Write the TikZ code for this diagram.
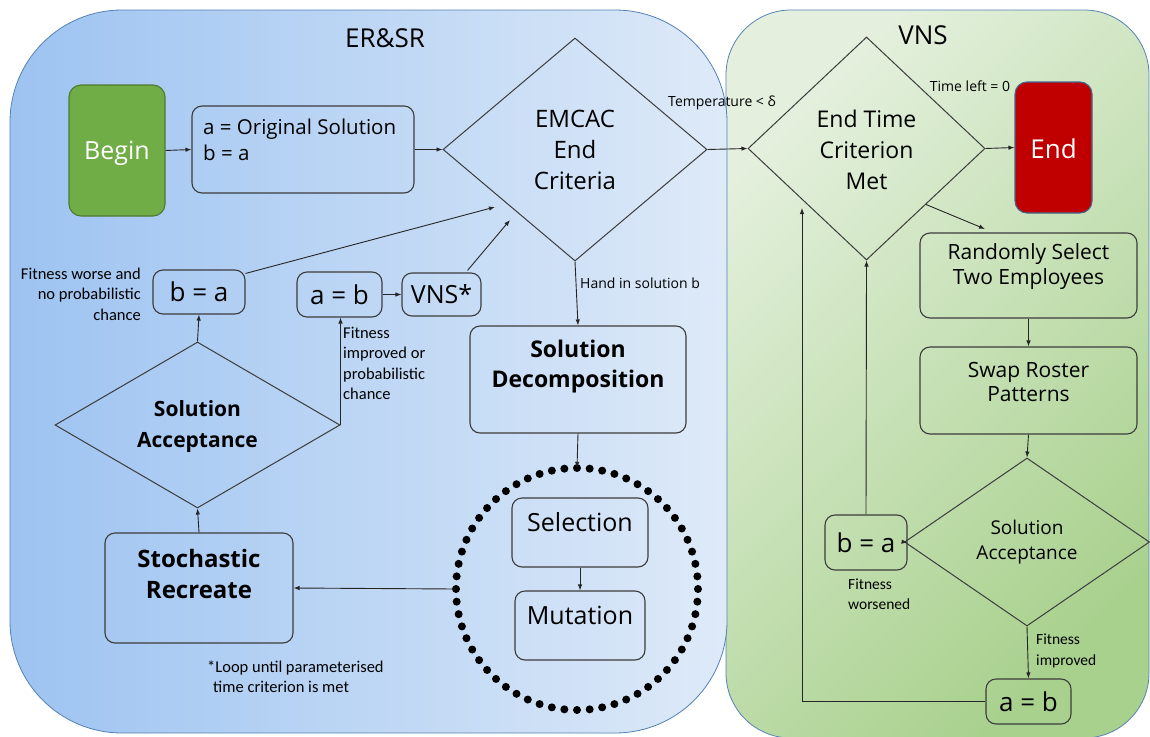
\documentclass[tikz,border=0pt]{standalone}
\usepackage{fontspec}
\setmainfont{Open Sans}
\newfontfamily\lblfont{Carlito}
\usetikzlibrary{arrows.meta,shapes.geometric}
\definecolor{bluel}{RGB}{157,195,241}
\definecolor{bluer}{RGB}{222,234,248}
\definecolor{greentl}{RGB}{228,240,221}
\definecolor{greenbr}{RGB}{169,209,142}
\definecolor{frame}{RGB}{84,130,180}
\definecolor{begingreen}{RGB}{112,173,71}
\definecolor{endred}{RGB}{192,0,0}
\definecolor{edge}{RGB}{60,60,60}
\newcommand\fsz[2]{\fontsize{#1}{#2}\selectfont}
\begin{document}
\begin{tikzpicture}[x=1pt,y=-1pt,
  rbox/.style={draw=edge, line width=1.1pt, rounded corners=10pt, inner sep=0pt},
  dia/.style={diamond, draw=edge, line width=1pt, inner sep=0pt},
  flow/.style={draw=black!85, line width=0.9pt, -{Latex[length=6pt,width=4.5pt]}},
  txt/.style={inner sep=0pt, align=center},
  lbl/.style={inner sep=0pt, font=\lblfont\fsz{16.5}{20.5}},
  small/.style={inner sep=0pt, font=\fsz{14}{18}}]
\useasboundingbox (0,0) rectangle (1150,736);

% containers
\path[draw=frame, line width=0.8pt, rounded corners=65pt,
      top color=greentl, bottom color=greenbr, shading angle=45]
  (726,10) rectangle (1149,738);
\path[draw=frame, line width=0.8pt, rounded corners=112pt,
      left color=bluel, right color=bluer]
  (10,10) rectangle (727,733);
\node[txt, font=\fsz{26}{30}] (ersr) at (385,38) {ER\&SR};
\node[txt, font=\fsz{26}{30}] (vnstitle) at (923,35) {VNS};

% ER&SR part
\node[rbox, fill=begingreen, draw=begingreen!70!black, rounded corners=12pt,
      minimum width=96pt, minimum height=131pt]
  (begin) at (117,150.5) {};
\node[txt, text=white, font=\fsz{25}{30}] (begint) at (117,153) {Begin};
\node[rbox, minimum width=222pt, minimum height=87pt] (orig) at (303,149.5) {};
\node[inner sep=0pt, align=left, anchor=west, font=\fsz{20.5}{26}] (origt) at (203,140)
  {a = Original Solution\\b = a};

\node[dia, minimum width=264pt, minimum height=223pt] (emcac) at (575,149.5) {};
\node[txt, font=\fsz{24}{31}] (emcact) at (575,150) {EMCAC\\End\\Criteria};

\node[dia, minimum width=285pt, minimum height=166pt] (bsa) at (197.5,425) {};
\node[txt, font=\bfseries\fsz{21}{31}] (bsat) at (197.5,426.5) {Solution\\Acceptance};

\node[rbox, minimum width=92pt, minimum height=44pt, font=\fsz{26}{30}] (bba) at (199,292) {b = a};
\node[rbox, minimum width=85pt, minimum height=45pt, font=\fsz{26}{30}] (bab) at (339.5,294.5) {a = b};
\node[rbox, minimum width=79pt, minimum height=43pt, font=\fsz{25}{30}] (vns) at (441.5,294.5) {VNS*};

\node[lbl, align=right, anchor=east] (worse) at (141,294)
  {Fitness worse and\\no probabilistic\\chance};
\node[lbl, align=left, anchor=west] (better) at (343,363.5)
  {Fitness\\improved or\\probabilistic\\chance};

\node[rbox, minimum width=216pt, minimum height=107pt] (sd) at (578,379.5) {};
\node[txt, font=\bfseries\fsz{23}{30}] (sdt) at (578,367) {Solution\\Decomposition};

\node[circle, minimum size=242pt, inner sep=0pt] (loop) at (577,589) {};
\foreach \k in {0,...,59}
  \fill (loop.center) ++(\k*6:121pt) circle[radius=4pt];

\node[rbox, minimum width=136pt, minimum height=69pt] (sel) at (580,532.5) {};
\node[txt, font=\fsz{25}{30}] (selt) at (580,522) {Selection};
\node[rbox, minimum width=130pt, minimum height=69pt] (mut) at (580,625.5) {};
\node[txt, font=\fsz{25}{30}] (mutt) at (580,615) {Mutation};

\node[rbox, minimum width=188pt, minimum height=110pt] (sr) at (199,588) {};
\node[txt, font=\bfseries\fsz{24}{31}] (srt) at (199,573.5) {Stochastic\\Recreate};

\node[lbl, align=left, anchor=west] (note) at (207,676.5)
  {*Loop until parameterised\\\hspace*{6pt}time criterion is met};

% VNS part
\node[dia, minimum width=237pt, minimum height=223pt] (etc) at (866.5,148.5) {};
\node[txt, font=\fsz{23}{31}] (etct) at (866.5,150) {End Time\\Criterion\\Met};

\node[rbox, fill=endred, draw=frame!80!black, rounded corners=12pt,
      minimum width=77pt, minimum height=131pt]
  (end) at (1053.5,147.5) {};
\node[txt, text=white, font=\fsz{26}{30}] (endt) at (1053.5,149) {End};

\node[rbox, minimum width=217pt, minimum height=85pt] (rnd) at (1028.5,275.5) {};
\node[txt, font=\fsz{21}{25}] (rndt) at (1028.5,266.5) {Randomly Select\\Two Employees};
\node[rbox, minimum width=217pt, minimum height=87pt] (swap) at (1028.5,390.5) {};
\node[txt, font=\fsz{21}{24}] (swapt) at (1028.5,382) {Swap Roster\\Patterns};

\node[dia, minimum width=245pt, minimum height=168pt] (gsa) at (1027,542) {};
\node[txt, font=\fsz{19}{25}] (gsat) at (1027,542) {Solution\\Acceptance};

\node[rbox, minimum width=82pt, minimum height=55pt, font=\fsz{26}{30}] (gba) at (866,542.5) {b = a};
\node[rbox, minimum width=85pt, minimum height=45pt, font=\fsz{26}{30}] (gab) at (1028.5,701.5) {a = b};

\node[lbl, font=\lblfont\fsz{15.5}{20}, align=left, anchor=west] (worsened) at (848,594) {Fitness\\worsened};
\node[lbl, font=\lblfont\fsz{15.5}{21}, align=left, anchor=west] (improved) at (1036,650.5) {Fitness\\improved};

% free ends of connectors
\coordinate (emcacin1) at (495,207);
\coordinate (emcacin2) at (510,220);
\coordinate (etcin) at (802,208);
\coordinate (rndin) at (985,229);

% connectors
\draw[flow] (begin.east) -- (orig.west);
\draw[flow] (orig.east) -- (emcac.west);
\draw[flow] (emcac.east) -- (etc.west);
\node[small] (templbl) at (722,103) {Temperature < δ};
\draw[flow] (etc.east) -- (end.west);
\node[small] (timelbl) at (970,86) {Time left = 0};
\draw[flow] (etc.south east) -- (rndin);
\draw[flow] (rnd.south) -- (swap.north);
\draw[flow] (swap.south) -- (gsa.north);
\draw[flow] (gsa.west) -- (gba.east);
\draw[flow] (gba.north) -- (etc.south);
\draw[flow] (gsa.south) -- (gab.north);
\draw[flow] (gab.west) -| (etcin);

\draw[flow] (bsa.north) -- (bba.south);
\draw[flow] ([yshift=-4pt]bba.north east) -- (emcacin1);
\draw[flow] (bsa.east) -- (bsa.east |- bab.south);
\draw[flow] (bab.east) -- (vns.west);
\draw[flow] ([xshift=26pt,yshift=2pt]vns.north) -- (emcacin2);
\draw[flow] (emcac.south) -- (sd.north);
\node[small, anchor=west] (handlbl) at (580,283) {Hand in solution b};
\draw[flow] (sd.south) -- (loop.north);
\draw[flow] (sel.south) -- (mut.north);
\draw[flow] (loop.west) -- (sr.east);
\draw[flow] (sr.north) -- (bsa.south);
\end{tikzpicture}
\end{document}
